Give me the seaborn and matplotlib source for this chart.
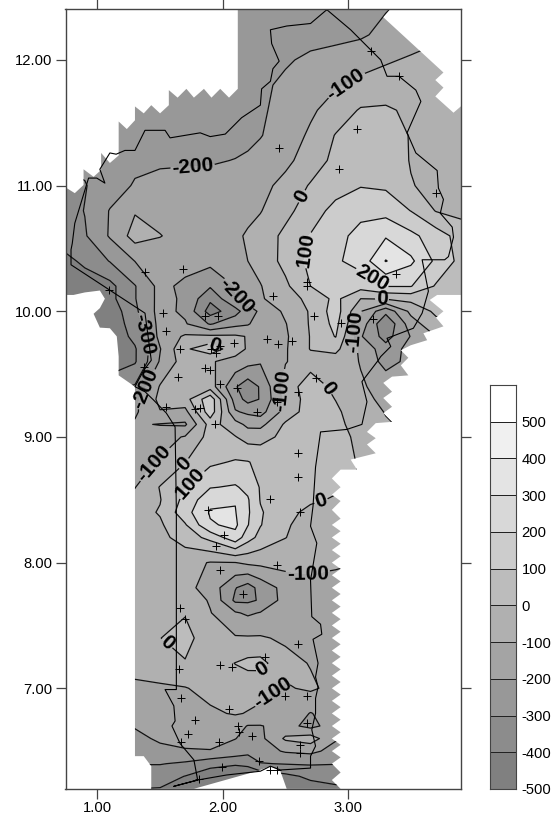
import numpy as np
import matplotlib
matplotlib.use("Agg")
import matplotlib.pyplot as plt
from matplotlib.colors import BoundaryNorm, ListedColormap
from matplotlib.patches import Polygon
import seaborn as sns

# grid
x_grid = [0.7, 0.9, 1.1, 1.3, 1.5, 1.7, 1.9, 2.1, 2.2, 2.3, 2.5, 2.7, 2.9, 3.1, 3.3, 3.5, 3.7, 3.9]
y_grid = [12.4, 12.2, 12.0, 11.8, 11.6, 11.4, 11.2, 11.0, 10.8, 10.6, 10.4, 10.2, 10.1, 10.0, 9.9, 9.8, 9.7, 9.6,
          9.4, 9.3, 9.2, 9.1, 9.0, 8.8, 8.6, 8.5, 8.4, 8.3, 8.2, 8.0, 7.8, 7.7, 7.6, 7.4, 7.2, 7.0, 6.8, 6.7, 6.6,
          6.5, 6.4, 6.3, 6.2]
z_grid = [
    [-270, -270, -270, -260, -260, -260, -260, -260, -255, -255, -255, -250, -245, -230, -205, -170, -140, -110],
    [-270, -270, -270, -260, -260, -260, -260, -260, -255, -255, -250, -245, -235, -215, -170, -140, -115, -95],
    [-270, -270, -270, -265, -265, -265, -265, -260, -255, -250, -215, -175, -150, -130, -110, -90, -75, -60],
    [-270, -270, -270, -265, -265, -260, -260, -250, -240, -225, -175, -145, -110, -80, -60, -50, -55, -60],
    [-270, -270, -270, -270, -270, -260, -255, -240, -230, -215, -165, -115, -60, 10, 15, -20, -45, -60],
    [-280, -280, -270, -255, -255, -250, -245, -235, -225, -205, -150, -85, 5, 35, 40, -5, -40, -55],
    [-290, -280, -240, -225, -215, -212, -210, -197, -185, -165, -120, -60, 30, 55, 55, -5, -40, -50],
    [-330, -305, -250, -190, -170, -165, -160, -150, -140, -125, -75, 10, 60, 95, 85, 5, -25, -45],
    [-350, -297, -195, -108, -130, -150, -145, -135, -122, -105, -30, 55, 130, 170, 165, 98, -5, -30],
    [-370, -310, -190, -60, -97, -130, -140, -115, -90, -60, 25, 105, 165, 235, 290, 225, 150, 60],
    [-430, -385, -295, -198, -150, -155, -170, -130, -100, -65, 30, 125, 185, 240, 405, 320, 180, 70],
    [-420, -440, -430, -305, -170, -225, -290, -195, -150, -105, -20, 100, 135, 140, 205, 205, 90, 40],
    [-450, -450, -430, -305, -170, -215, -380, -205, -160, -110, -50, 30, 125, 0, 10, 30, 40, 40],
    [-480, -480, -470, -320, -165, -220, -445, -340, -240, -185, -80, 10, 150, -95, -270, -75, 20, 30],
    [-480, -480, -470, -350, -170, -190, -310, -230, -210, -150, -105, 10, 130, -140, -390, -145, -30, 20],
    [-480, -480, -470, -375, -175, -85, -80, -85, -105, -130, -115, 5, 105, -190, -340, -195, -100, 0],
    [-480, -480, -470, -410, -205, -15, 60, -60, -110, -160, -110, 5, 25, -120, -260, -165, -60, 0],
    [-480, -480, -480, -410, -190, -50, -92, -130, -165, -190, -105, -45, -45, -105, -240, -170, -100, -50],
    [-320, -320, -320, -290, -92, -40, -50, -290, -360, -290, -60, 60, -30, -90, -130, -200, -150, -100],
    [-260, -260, -260, -225, -75, -40, 170, -250, -335, -295, -75, 50, -2, -70, -125, -180, -150, -100],
    [-240, -240, -240, -215, -105, -130, 160, -190, -220, -240, -60, 50, 15, -50, -105, -150, -150, -100],
    [-200, -200, -200, -188, -205, -215, 40, -60, -125, -130, 15, 50, 25, -40, -90, -120, -120, -100],
    [-180, -180, -180, -175, -140, -92, 35, 5, -40, -35, 25, 55, 30, -20, -60, -100, -100, -100],
    [-150, -150, -150, -140, -90, -3, 80, 110, 105, 75, 50, 45, 20, -5, -40, -60, -60, -60],
    [-110, -110, -110, -103, 5, 95, 195, 210, 175, 92, 50, 30, 15, 0, -20, -40, -40, -40],
    [-70, -70, -70, -70, -5, 130, 270, 295, 210, 95, 40, 15, -10, -40, -60, -60, -60, -60],
    [-50, -50, -50, -40, 8, 160, 310, 305, 215, 110, 30, -25, -60, -90, -90, -90, -90, -90],
    [-60, -60, -60, -60, -15, 90, 290, 320, 205, 105, 10, -35, -65, -90, -95, -95, -95, -95],
    [-70, -70, -70, -60, -30, 45, 130, 265, 140, 70, 2, -45, -70, -90, -100, -100, -100, -100],
    [-60, -60, -60, -60, -55, -70, -105, -102, -80, -75, -65, -75, -90, -100, -110, -110, -110, -110],
    [-60, -60, -60, -60, -55, -70, -140, -295, -345, -265, -165, -130, -125, -125, -125, -125, -125, -125],
    [-55, -55, -55, -55, -45, -35, -110, -320, -320, -290, -160, -125, -125, -125, -125, -125, -125, -125],
    [-50, -50, -50, -50, -40, -8, -95, -190, -215, -195, -145, -125, -125, -125, -125, -125, -125, -125],
    [-45, -45, -45, -45, -2, 40, -70, -90, -90, -90, -115, -140, -135, -135, -135, -135, -135, -135],
    [-55, -55, -55, -55, -40, -8, -40, 2, 25, 30, -70, -105, -140, -140, -140, -140, -140, -140],
    [-125, -125, -125, -125, -115, -105, -70, -40, -60, -70, -110, -85, -130, -130, -130, -130, -130, -130],
    [-135, -135, -135, -135, -130, -125, -115, -92, -105, -120, -125, -205, -150, -150, -150, -150, -150, -150],
    [-190, -190, -190, -190, -150, -140, -130, -160, -205, -205, -165, -230, -150, -150, -150, -150, -150, -150],
    [-235, -235, -235, -235, -180, -165, -165, -198, -225, -225, -85, -50, -190, -190, -190, -190, -190, -190],
    [-280, -280, -280, -280, -235, -210, -205, -240, -270, -240, -190, -175, -235, -235, -235, -235, -235, -235],
    [-295, -295, -295, -295, -295, -315, -360, -385, -370, -305, -295, -290, -295, -295, -295, -295, -295, -295],
    [-360, -360, -360, -360, -360, -402, -470, -500, -500, -470, -425, -380, -390, -390, -390, -390, -390, -390],
    [-400, -400, -400, -400, -404, -450, -480, -500, -500, -500, -470, -440, -405, -405, -405, -405, -405, -405],
]

levels = [-500, -400, -300, -200, -100, 0, 100, 200, 300, 400, 500, 600]
band_colors = ["#808080", "#8c8c8c", "#989898", "#a4a4a4", "#b0b0b0", "#bcbcbc",
               "#cccccc", "#d8d8d8", "#e4e4e4", "#f0f0f0", "#ffffff"]
bar_labels = ["500", "400", "300", "200", "100", "0", "-100", "-200", "-300", "-400", "-500"]

# edge of the gridded area
outline = [
    (2.12, 12.41), (3.34, 12.41), (3.28, 12.34), (3.76, 11.90), (3.695, 11.84), (3.76, 11.78), (3.695, 11.71),
    (3.84, 11.58), (3.91, 11.64), (3.91, 10.13), (3.71, 10.13), (3.65, 10.09), (3.76, 10.00), (3.70, 9.95),
    (3.76, 9.88), (3.60, 9.825), (3.63, 9.77), (3.50, 9.73), (3.42, 9.69), (3.48, 9.63), (3.42, 9.57),
    (3.48, 9.49), (3.35, 9.48), (3.28, 9.43), (3.35, 9.36), (3.28, 9.31), (3.35, 9.24), (3.28, 9.19),
    (3.35, 9.12), (3.22, 9.11), (3.15, 9.04), (3.22, 8.99), (3.15, 8.94), (3.22, 8.87), (3.02, 8.82),
    (3.07, 8.74), (2.94, 8.74), (2.87, 8.67), (2.94, 8.60), (2.87, 8.54), (2.94, 8.49), (2.87, 8.42),
    (2.94, 8.35), (2.87, 8.30), (2.94, 8.25), (2.87, 8.20), (2.94, 8.15), (2.87, 8.10), (2.94, 8.05),
    (2.87, 8.00), (2.94, 7.95), (2.87, 7.90), (2.94, 7.85), (2.87, 7.80), (2.94, 7.75), (2.87, 7.70),
    (2.94, 7.65), (2.87, 7.60), (2.94, 7.55), (2.87, 7.50), (2.94, 7.45), (2.87, 7.40), (2.94, 7.35),
    (2.87, 7.30), (2.94, 7.25), (2.87, 7.20), (2.94, 7.15), (2.87, 7.10), (2.94, 7.05), (2.87, 7.00),
    (2.94, 6.95), (2.87, 6.90), (2.94, 6.85), (2.87, 6.80), (2.94, 6.75), (2.87, 6.70), (2.94, 6.65),
    (2.87, 6.60), (2.94, 6.55), (2.87, 6.50), (2.94, 6.45), (2.87, 6.40), (2.94, 6.33), (2.87, 6.27),
    (2.94, 6.20), (2.51, 6.20), (2.46, 6.34), (2.38, 6.38), (2.27, 6.34), (1.77, 6.20), (1.43, 6.20),
    (1.43, 6.38), (1.37, 6.46), (1.30, 6.46), (1.30, 9.40), (1.17, 9.49), (1.17, 9.64), (1.155, 9.80),
    (1.10, 9.865), (1.02, 9.87), (0.97, 9.98), (1.02, 10.025), (1.06, 10.10), (1.02, 10.165), (0.90, 10.15),
    (0.81, 10.13), (0.74, 10.13), (0.74, 10.99), (0.82, 10.94), (0.89, 11.005), (0.89, 11.13), (0.97, 11.07),
    (1.03, 11.125), (1.03, 11.26), (1.10, 11.18), (1.17, 11.24), (1.17, 11.51), (1.235, 11.45), (1.30, 11.52),
    (1.30, 11.63), (1.37, 11.575), (1.43, 11.64), (1.50, 11.575), (1.57, 11.64), (1.57, 11.76), (1.64, 11.70),
    (1.71, 11.77), (1.77, 11.70), (1.85, 11.77), (1.91, 11.70), (1.98, 11.77), (2.05, 11.70), (2.12, 11.77),
]

# state border, thin line
border_x = [2.83, 2.70, 2.51, 2.38, 2.39, 2.45, 2.40, 2.38, 2.31, 2.30, 2.15, 2.02, 1.90, 1.82, 1.58, 1.54, 1.38,
            1.30, 1.22, 1.15, 1.10, 1.02, 1.06, 0.995, 0.93, 0.82, 0.80, 0.79, 0.79, 1.38, 1.43, 1.37, 1.30, 1.38,
            1.447, 1.55, 1.62, 1.63, 1.63, 1.63, 1.54, 1.61, 1.62, 1.595, 1.66, 1.77, 1.80, 1.61, 1.80, 2.03, 2.30,
            2.38, 2.46, 2.70, 2.70, 2.74, 2.71, 2.74, 2.74, 2.76, 2.74, 2.76, 2.72, 2.79, 2.78, 2.71, 2.70, 2.75,
            2.70, 2.72, 2.74, 2.78, 2.99, 3.11, 3.15, 3.11, 3.24, 3.26, 3.34, 3.31, 3.52, 3.59, 3.64, 3.59, 3.77,
            3.80, 3.84, 3.83, 3.735, 3.76, 3.72, 3.71, 3.54, 3.47, 3.58, 3.54, 3.405, 3.31, 3.26, 3.11, 3.02, 2.83]
border_y = [12.40, 12.29, 12.27, 12.24, 12.13, 11.99, 11.93, 11.83, 11.77, 11.64, 11.54, 11.41, 11.39, 11.42, 11.38,
            11.44, 11.44, 11.28, 11.28, 11.25, 11.26, 11.13, 11.02, 11.06, 11.06, 10.70, 10.54, 10.49, 10.37, 9.985,
            9.61, 9.53, 9.40, 9.36, 9.295, 9.19, 9.08, 8.42, 8.34, 6.99, 6.99, 6.86, 6.74, 6.70, 6.56, 6.43, 6.27,
            6.22, 6.27, 6.31, 6.34, 6.38, 6.35, 6.365, 6.46, 6.54, 6.67, 6.80, 6.92, 7.01, 7.09, 7.20, 7.39, 7.43,
            7.51, 7.57, 7.86, 8.155, 8.29, 8.45, 8.76, 9.04, 9.06, 9.10, 9.28, 9.44, 9.61, 9.64, 9.72, 9.785, 9.865,
            9.985, 10.16, 10.41, 10.41, 10.435, 10.59, 10.67, 10.78, 10.89, 10.98, 11.12, 11.26, 11.42, 11.67, 11.76,
            11.87, 11.87, 12.00, 12.15, 12.24, 12.40]

# stations
station_x = [3.18, 3.405, 3.07, 2.45, 2.93, 3.70, 1.38, 1.68, 1.096, 3.385, 2.67, 2.67, 2.40, 2.73, 2.945, 3.20, 1.52,
             1.55, 1.86, 1.96, 2.35, 2.44, 2.55, 2.09, 1.66, 1.91, 1.98, 1.95, 1.37, 1.64, 1.86, 1.90, 1.98, 2.115,
             2.43, 2.60, 2.74, 2.27, 1.55, 1.775, 1.82, 1.94, 2.60, 2.60, 2.38, 1.886, 2.01, 2.62, 1.95, 2.43, 1.98,
             2.165, 1.66, 1.70, 2.60, 2.34, 1.98, 2.07, 1.65, 2.50, 2.67, 1.665, 2.05, 1.78, 2.12, 2.13, 2.23, 1.72,
             1.97, 1.665, 2.67, 2.62, 2.62, 2.29, 1.998, 1.81, 2.38, 2.43]
station_y = [12.07, 11.87, 11.45, 11.30, 11.135, 10.94, 10.316, 10.337, 10.17, 10.30, 10.23, 10.20, 10.12, 9.966, 9.905,
             9.94, 9.99, 9.84, 9.96, 9.96, 9.78, 9.74, 9.76, 9.75, 9.70, 9.70, 9.72, 9.67, 9.555, 9.48, 9.55, 9.53,
             9.42, 9.39, 9.28, 9.354, 9.47, 9.20, 9.24, 9.22, 9.23, 9.10, 8.87, 8.685, 8.505, 8.42, 8.22, 8.40, 8.13,
             7.985, 7.94, 7.75, 7.635, 7.55, 7.35, 7.25, 7.185, 7.17, 7.15, 6.935, 6.935, 6.92, 6.835, 6.75, 6.70,
             6.65, 6.62, 6.64, 6.57, 6.57, 6.72, 6.55, 6.485, 6.42, 6.37, 6.28, 6.35, 6.35]

# contour labels: level -> where it sits
label_spots = {
    -300: [(1.38, 9.82)],
    -200: [(1.76, 11.15), (2.14, 10.13), (1.42, 9.36)],
    -100: [(2.99, 11.79), (3.07, 9.83), (2.48, 9.37), (1.45, 8.79), (2.68, 7.92), (2.39, 6.975)],
    0: [(2.64, 10.91), (1.94, 9.75), (3.27, 10.12), (2.845, 9.39), (1.69, 8.79), (2.79, 8.47), (1.54, 7.34),
        (2.33, 7.14)],
    100: [(2.645, 10.49), (1.74, 8.63)],
    200: [(3.19, 10.26)],
}

sns.set_theme(style="ticks")
plt.rcParams["font.family"] = ["Liberation Sans", "DejaVu Sans"]

W, H = 551, 824
fig = plt.figure(figsize=(W / 100, H / 100), dpi=100)
ax = fig.add_axes([65.5 / W, 1 - 788.7 / H, (461 - 65.5) / W, (788.7 - 9.3) / H])
cax = fig.add_axes([490 / W, 1 - 789 / H, 26 / W, (789 - 385) / H])

cmap = ListedColormap(band_colors)
norm = BoundaryNorm(levels, cmap.N)

clip = Polygon(outline, closed=True, transform=ax.transData)
filled = ax.contourf(x_grid, y_grid, z_grid, levels=levels, colors=band_colors)
filled.set_clip_path(clip)

# one contour set per level, clabel trips on a subset of levels otherwise
for level in levels[1:-1]:
    lines = ax.contour(x_grid, y_grid, z_grid, levels=[level], colors="#111111", linewidths=0.9,
                       linestyles="solid")
    lines.set_clip_path(clip)
    if level in label_spots:
        texts = ax.clabel(lines, manual=label_spots[level], fmt="%d", fontsize=15, inline=True,
                          inline_spacing=1, colors="black")
        for t in texts:
            t.set_fontweight("bold")
            t.set_clip_on(False)

sns.lineplot(x=border_x, y=border_y, sort=False, estimator=None, color="black", linewidth=0.8, ax=ax)
sns.scatterplot(x=station_x, y=station_y, marker="+", s=28, color="black", linewidth=0.7, ax=ax, zorder=5)

ax.set_xlim(0.746, 3.90)
ax.set_ylim(6.201, 12.403)
ax.set_xticks([1, 2, 3])
ax.set_yticks([7, 8, 9, 10, 11, 12])
ax.set_xticklabels(["1.00", "2.00", "3.00"])
ax.set_yticklabels(["7.00", "8.00", "9.00", "10.00", "11.00", "12.00"])
ax.tick_params(axis="both", which="major", length=7.2, width=0.9, color="#444444", labelsize=10.6,
               top=True, right=True, labelcolor="black", pad=2)
ax.set_xlabel("")
ax.set_ylabel("")
for side, spine in ax.spines.items():
    spine.set_visible(True)
    spine.set_linewidth(1.0)
    spine.set_color("#444444")

# legend bar, top band first
band_mid = np.array([[550], [450], [350], [250], [150], [50], [-50], [-150], [-250], [-350], [-450]])
sns.heatmap(band_mid, cmap=cmap, norm=norm, cbar=False, ax=cax, linewidths=0.6, linecolor="#222222",
            xticklabels=False, yticklabels=False)
cax.set_yticks(np.arange(1, 12))
cax.set_yticklabels(bar_labels, rotation=0)
cax.yaxis.tick_right()
cax.tick_params(axis="y", length=0, pad=4, labelsize=10.6, labelcolor="black")
cax.set_xticks([])
for spine in cax.spines.values():
    spine.set_visible(True)
    spine.set_linewidth(0.8)
    spine.set_color("#444444")

fig.savefig("out.png", dpi=100)
plt.close(fig)
